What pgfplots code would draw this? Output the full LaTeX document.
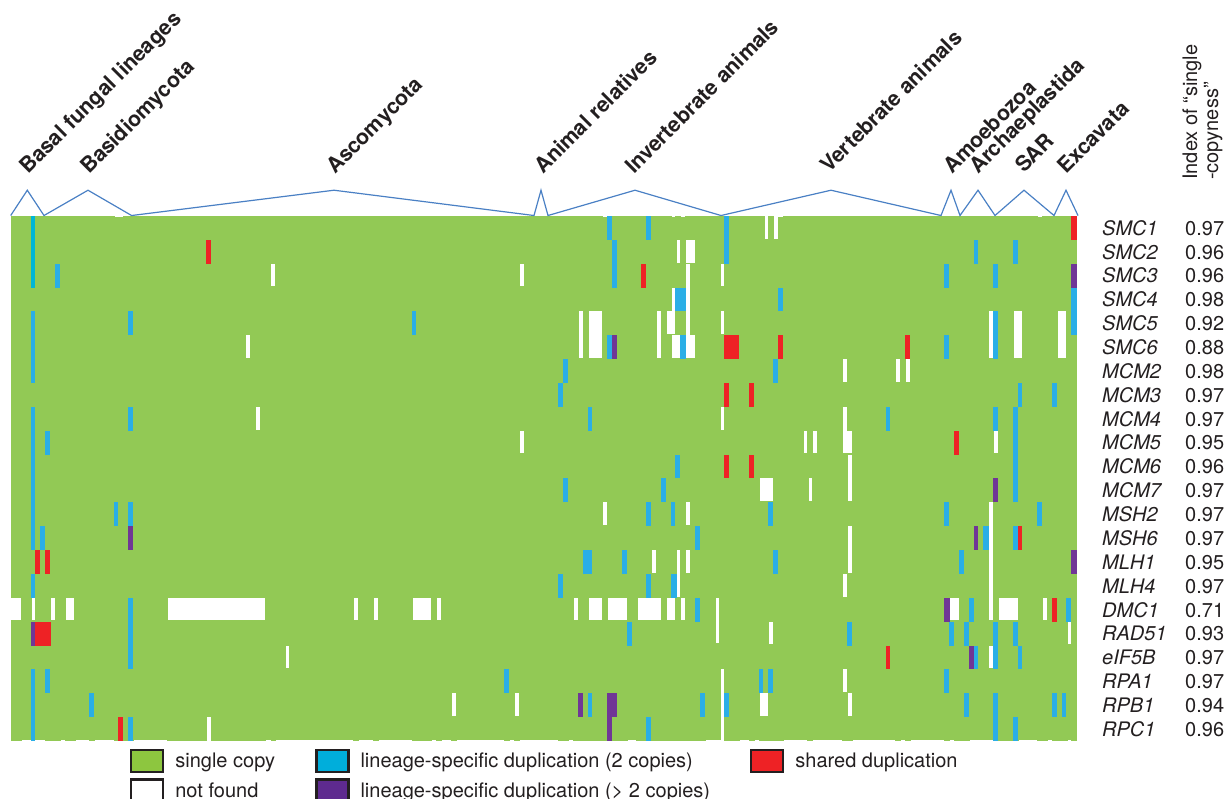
\documentclass[border=0pt]{standalone}
\usepackage{pgfplots}
\pgfplotsset{compat=1.18}
\usepackage{fontspec}
\setmainfont{TeX Gyre Heros}
\definecolor{cgreen}{RGB}{146,201,85}
\definecolor{cblue}{RGB}{42,174,230}
\definecolor{ccyan}{RGB}{0,182,214}
\definecolor{cred}{RGB}{238,34,37}
\definecolor{cpurple}{RGB}{112,54,150}
\definecolor{lgreen}{RGB}{141,198,63}
\definecolor{lblue}{RGB}{0,174,219}
\definecolor{lpurple}{RGB}{94,42,143}
\definecolor{cline}{RGB}{74,128,196}
\definecolor{ctext}{RGB}{35,31,32}
% one rectangle of the matrix: colour, x from, x to, row from, row to
\newcommand{\hmrect}[5]{\addplot[draw=none,fill=#1,forget plot] coordinates {(#2,#4)(#3,#4)(#3,#5)(#2,#5)};}
\newcommand{\Wh}[4]{\hmrect{white}{#1}{#2}{#3}{#4}}
\newcommand{\Bl}[4]{\hmrect{cblue}{#1}{#2}{#3}{#4}}
\newcommand{\Cy}[4]{\hmrect{ccyan}{#1}{#2}{#3}{#4}}
\newcommand{\Rd}[4]{\hmrect{cred}{#1}{#2}{#3}{#4}}
\newcommand{\Pu}[4]{\hmrect{cpurple}{#1}{#2}{#3}{#4}}
\DeclareRobustCommand{\rowlab}[2]{\hbox to 83pt{\itshape #1\hfil}#2}
\newcommand{\lab}[3]{\node[rotate=45,anchor=base west,inner sep=0pt,text=ctext,font=\fontsize{21.3}{23}\selectfont\bfseries] at ({#1*1pt},{(799-#2)*1pt}) {#3};}
\pgfplotsset{swatch/.style={legend image code/.code={\draw[line width=2.4pt,draw=ctext,##1] (0pt,-11pt) rectangle (32pt,11pt);}}}
\begin{document}
\begin{tikzpicture}
\useasboundingbox (0,0) rectangle (1226pt,799pt);
\clip (0,0) rectangle (1226pt,799pt);
\begin{axis}[
  at={(11pt,58pt)},anchor=south west,
  width=1066pt,height=525pt,scale only axis,
  xmin=11,xmax=1077,ymin=0,ymax=22,y dir=reverse,
  clip=false,
  axis line style={draw=none},
  xtick=\empty,
  ytick={0.5,1.5,2.5,3.5,4.5,5.5,6.5,7.5,8.5,9.5,10.5,11.5,12.5,13.5,14.5,15.5,16.5,17.5,18.5,19.5,20.5,21.5},
  yticklabel pos=right,
  major tick length=0pt,
  yticklabels={\rowlab{SMC1}{0.97},\rowlab{SMC2}{0.96},\rowlab{SMC3}{0.96},\rowlab{SMC4}{0.98},\rowlab{SMC5}{0.92},\rowlab{SMC6}{0.88},\rowlab{MCM2}{0.98},\rowlab{MCM3}{0.97},\rowlab{MCM4}{0.97},\rowlab{MCM5}{0.95},\rowlab{MCM6}{0.96},\rowlab{MCM7}{0.97},\rowlab{MSH2}{0.97},\rowlab{MSH6}{0.97},\rowlab{MLH1}{0.95},\rowlab{MLH4}{0.97},\rowlab{DMC1}{0.71},\rowlab{RAD51}{0.93},\rowlab{eIF5B}{0.97},\rowlab{RPA1}{0.97},\rowlab{RPB1}{0.94},\rowlab{RPC1}{0.96}},
  yticklabel style={font=\fontsize{20}{22}\selectfont,text=ctext,anchor=west,inner sep=0pt,xshift=25pt},
  legend columns=3,
  legend cell align=left,
  legend style={at={(0.1116,-0.0152)},anchor=north west,draw=none,fill=none,inner sep=0pt,outer sep=0pt,
    font=\fontsize{20}{22}\selectfont,text=ctext,
    /tikz/every odd column/.append style={column sep=9pt},
    /tikz/every even column/.append style={column sep=38pt},
    row sep=5pt},
]
\addlegendimage{swatch,fill=lgreen}
\addlegendentry{single copy}
\addlegendimage{swatch,fill=lblue}
\addlegendentry{lineage-specific duplication (2 copies)}
\addlegendimage{swatch,fill=cred}
\addlegendentry{shared duplication}
\addlegendimage{swatch,fill=white}
\addlegendentry{not found}
\addlegendimage{swatch,fill=lpurple}
\addlegendentry{lineage-specific duplication (> 2 copies)}
% background: single copy
\hmrect{cgreen}{11}{1077}{0}{22}
% not found
\Wh{271}{275}{2}{2.95}\Wh{520}{524}{2}{2.95}
\Wh{246}{250}{5}{5.95}\Wh{256}{260}{8}{8.95}\Wh{520}{524}{9}{9.95}
\Wh{11}{21}{16}{16.95}\Wh{32}{35}{16}{16.95}\Wh{51}{55}{16}{16.95}\Wh{66}{74}{16}{16.95}\Wh{168}{265}{16}{16.95}
\Wh{354}{358}{16}{16.95}\Wh{374}{378}{16}{16.95}\Wh{413}{431}{16}{16.95}\Wh{437}{441}{16}{16.95}
\Wh{286}{289}{18}{18.95}\Wh{452}{456}{20}{20.95}\Wh{515}{519}{20}{20.95}\Wh{207}{211}{21}{22}
\Wh{677}{680}{1}{1.95}\Wh{686}{695}{1}{1.95}\Wh{686}{690}{2}{5}\Wh{721}{724}{2}{2.95}\Wh{672}{675}{3}{4}
\Wh{579}{583}{4}{5.95}\Wh{589}{602}{4}{5.95}\Wh{657}{661}{4}{5.95}\Wh{667}{675}{4}{4.95}\Wh{721}{724}{4}{4.95}
\Wh{672}{680}{5}{5.95}\Wh{686}{695}{5}{5.95}\Wh{721}{724}{8}{8.95}
\Wh{603}{607}{12}{12.95}\Wh{686}{690}{12}{12.95}\Wh{652}{656}{14}{14.95}\Wh{677}{680}{14}{15.95}\Wh{686}{690}{14}{14.95}
\Wh{574}{578}{16}{16.95}\Wh{589}{602}{16}{16.95}\Wh{608}{627}{16}{16.95}\Wh{638}{661}{16}{16.95}\Wh{667}{675}{16}{16.95}\Wh{681}{685}{16}{16.95}\Wh{716}{719}{16}{17.9}
\Wh{721}{724}{19}{22}
\Wh{765}{768}{0}{0.95}\Wh{774}{778}{0}{0.95}\Wh{843}{847}{6}{6.95}\Wh{843}{847}{8}{9.95}\Wh{804}{807}{9}{9.95}\Wh{813}{817}{9}{9.95}\Wh{847}{852}{9}{9.95}
\Wh{848}{852}{10}{11.95}\Wh{760}{773}{11}{11.95}\Wh{809}{812}{11}{11.95}\Wh{848}{852}{13}{14.95}\Wh{843}{847}{15}{15.95}
\Wh{769}{773}{17}{17.95}\Wh{843}{847}{19}{19.95}\Wh{760}{768}{20}{20.95}\Wh{848}{852}{20}{20.95}
\Wh{896}{900}{6}{6.95}\Wh{906}{910}{6}{6.95}\Wh{994}{998}{9}{9.95}
\Wh{989}{993}{4}{5.95}\Wh{1014}{1022}{4}{5.95}\Wh{1058}{1066}{4}{5.95}\Wh{989}{993}{12}{16.95}
\Wh{950}{959}{16}{16.95}\Wh{999}{1018}{16}{16.95}\Wh{1043}{1047}{16}{16.95}\Wh{1068}{1071}{17}{17.95}\Wh{989}{993}{18}{18.95}
% small gaps along the upper edge
\Wh{115}{123}{0}{0.04}\Wh{603}{607}{0}{0.04}\Wh{672}{675}{0}{0.04}\Wh{681}{685}{0}{0.04}\Wh{778}{783}{0}{0.04}\Wh{1038}{1042}{0}{0.04}
% small gaps along the lower edge
\Wh{22}{45}{21.96}{22}\Wh{61}{65}{21.96}{22}\Wh{76}{89}{21.96}{22}\Wh{95}{114}{21.96}{22}\Wh{134}{167}{21.96}{22}
\Wh{266}{271}{21.96}{22}\Wh{276}{353}{21.96}{22}\Wh{359}{373}{21.96}{22}\Wh{379}{412}{21.96}{22}\Wh{432}{436}{21.96}{22}\Wh{442}{451}{21.96}{22}\Wh{457}{504}{21.96}{22}\Wh{510}{514}{21.96}{22}\Wh{520}{558}{21.96}{22}
\Wh{569}{573}{21.96}{22}\Wh{628}{636}{21.96}{22}\Wh{706}{721}{21.96}{22}\Wh{740}{749}{21.96}{22}\Wh{755}{759}{21.96}{22}\Wh{784}{807}{21.96}{22}\Wh{813}{842}{21.96}{22}\Wh{853}{895}{21.96}{22}
\Wh{901}{905}{21.96}{22}\Wh{911}{944}{21.96}{22}\Wh{950}{954}{21.96}{22}\Wh{970}{993}{21.96}{22}\Wh{1019}{1037}{21.96}{22}\Wh{1048}{1052}{21.96}{22}\Wh{1068}{1071}{21.96}{22}
% lineage-specific duplication (2 copies)
\Cy{31}{35}{0}{3}
\Bl{31}{35}{4}{7}\Bl{31}{35}{8}{14}\Bl{31}{35}{15}{16}\Bl{31}{35}{19}{22}
\Bl{55}{60}{2}{3}\Bl{128}{133}{4}{5}\Bl{128}{133}{8}{9}\Bl{45}{50}{9}{10}\Bl{114}{118}{12}{13}\Bl{128}{133}{12}{13}\Bl{40}{45}{13}{14}
\Bl{128}{133}{16}{19}\Bl{45}{50}{19}{20}\Bl{89}{94}{20}{21}\Bl{128}{133}{21}{22}
\Bl{412}{416}{4}{5}\Bl{504}{509}{19}{20}
\Bl{607}{612}{0}{1}\Bl{646}{651}{0}{1}\Bl{724}{729}{0}{2}\Bl{612}{617}{1}{3}\Bl{675}{686}{3}{4}
\Bl{607}{612}{5}{6}\Bl{680}{686}{5}{6}\Bl{563}{568}{6}{7}\Bl{558}{563}{7}{8}\Bl{588}{592}{8}{9}\Bl{675}{680}{10}{11}
\Bl{563}{568}{11}{12}\Bl{661}{666}{11}{12}\Bl{646}{651}{12}{13}\Bl{671}{675}{12}{13}\Bl{695}{700}{13}{14}
\Bl{583}{592}{14}{15}\Bl{622}{627}{14}{15}\Bl{558}{563}{15}{16}\Bl{646}{651}{15}{16}\Bl{671}{677}{15}{16}
\Bl{695}{700}{16}{17}\Bl{627}{632}{17}{18}\Bl{588}{592}{20}{21}\Bl{700}{705}{20}{21}\Bl{724}{729}{20}{21}\Bl{646}{651}{21}{22}
\Bl{778}{783}{3}{4}\Bl{773}{778}{6}{7}\Bl{886}{890}{8}{9}\Bl{768}{773}{12}{13}\Bl{773}{778}{14}{15}\Bl{847}{852}{17}{18}\Bl{759}{763}{19}{20}\Bl{768}{773}{19}{20}
\Bl{974}{978}{1}{2}\Bl{1013}{1018}{1}{2}\Bl{944}{949}{2}{3}\Bl{993}{998}{2}{3}\Bl{1071}{1077}{3}{5}\Bl{993}{998}{4}{6}\Bl{944}{949}{5}{6}
\Bl{1018}{1022}{7}{8}\Bl{1052}{1057}{7}{8}\Bl{993}{998}{8}{9}\Bl{1013}{1018}{8}{12}
\Bl{944}{949}{12}{13}\Bl{1037}{1042}{12}{13}\Bl{983}{989}{13}{14}\Bl{1013}{1018}{13}{14}\Bl{959}{964}{14}{15}
\Bl{969}{974}{16}{17}\Bl{1066}{1071}{16}{17}\Bl{949}{954}{17}{18}\Bl{964}{969}{17}{18}\Bl{993}{998}{17}{19}\Bl{1013}{1018}{17}{18}
\Bl{974}{978}{18}{19}\Bl{1018}{1022}{18}{19}\Bl{944}{949}{19}{20}\Bl{964}{969}{20}{21}\Bl{993}{998}{20}{22}\Bl{1052}{1057}{20}{21}\Bl{1062}{1066}{20}{21}\Bl{1013}{1018}{21}{22}
% lineage-specific duplication (> 2 copies)
\Pu{128}{133}{13}{14}\Pu{31}{35}{17}{18}\Pu{612}{617}{5}{6}\Pu{578}{583}{20}{21}\Pu{607}{617}{20}{21}\Pu{607}{612}{21}{22}
\Pu{1071}{1077}{2}{3}\Pu{993}{998}{11}{12}\Pu{974}{978}{13}{14}\Pu{1071}{1077}{14}{15}\Pu{944}{950}{16}{17}\Pu{969}{974}{18}{19}
% shared duplication
\Rd{35}{40}{14}{15}\Rd{45}{50}{14}{15}\Rd{35}{51}{17}{18}\Rd{118}{123}{21}{22}\Rd{206}{211}{1}{2}
\Rd{641}{646}{2}{3}\Rd{724}{739}{5}{6}\Rd{778}{783}{5}{6}\Rd{724}{729}{7}{8}\Rd{749}{754}{7}{8}\Rd{724}{729}{10}{11}\Rd{749}{754}{10}{11}
\Rd{886}{890}{18}{19}\Rd{905}{910}{5}{6}\Rd{954}{959}{9}{10}\Rd{1018}{1022}{13}{14}\Rd{1052}{1057}{16}{17}\Rd{1071}{1077}{0}{1}
% brackets over the groups
\addplot[cline,line width=1.2pt,forget plot] coordinates {(10.7,-0.02)(27.3,-1.08)(44,-0.02)(88,-1.08)(131.6,-0.02)(334,-1.08)(534,-0.02)(541,-1.08)(548,-0.02)(635,-1.08)(721,-0.02)(831,-1.08)(941,-0.02)(951,-1.08)(960,-0.02)(978,-1.08)(995,-0.02)(1024,-1.08)(1054,-0.02)(1066,-1.08)(1078,-0.02)};
\end{axis}
\lab{28}{175}{Basal fungal lineages}
\lab{89}{175}{Basidiomycota}
\lab{335}{175}{Ascomycota}
\lab{543}{175}{Animal relatives}
\lab{634}{175}{Invertebrate animals}
\lab{829}{174}{Vertebrate animals}
\lab{952}{175}{Amoebozoa}
\lab{978}{175}{Archaeplastida}
\lab{1024}{174}{SAR}
\lab{1066}{175}{Excavata}
\node[rotate=90,anchor=base west,inner sep=0pt,text=ctext,font=\fontsize{20}{22}\selectfont] at (1197pt,619pt) {Index of “single};
\node[rotate=90,anchor=base west,inner sep=0pt,text=ctext,font=\fontsize{20}{22}\selectfont] at (1218pt,619pt) {-copyness”};
\end{tikzpicture}
\end{document}
